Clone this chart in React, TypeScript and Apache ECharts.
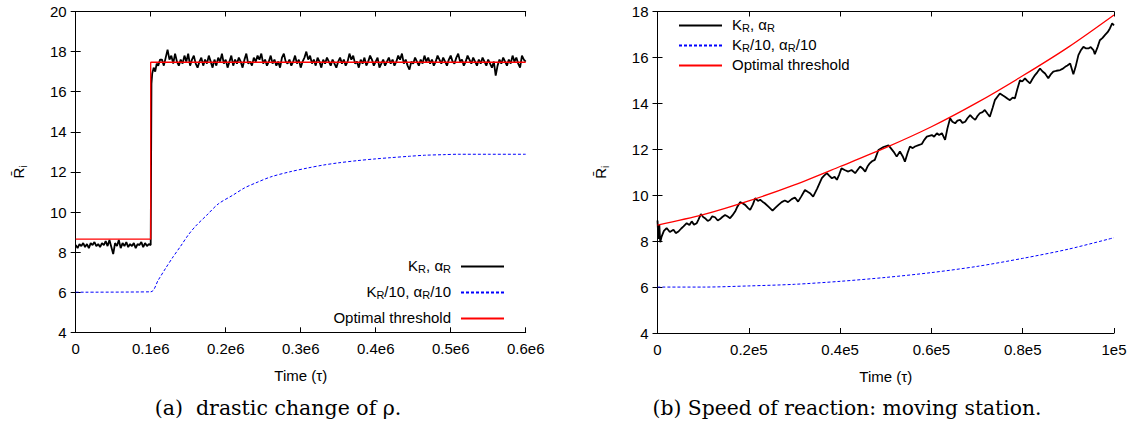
import React, { useEffect, useRef } from "react";
import * as echarts from "echarts";

// ---------- tick labels ----------
const leftXTickLabels = ["0", "0.1e6", "0.2e6", "0.3e6", "0.4e6", "0.5e6", "0.6e6"];
const rightXTickLabels = ["0", "0.2e5", "0.4e5", "0.6e5", "0.8e5", "1e5"];

// ---------- series names ----------
const nameBase = "KR, αR";
const nameTenth = "KR/10, αR/10";
const nameOpt = "Optimal threshold";

// ---------- left panel (time in units of 1e3 τ) ----------
const leftBlackPreStep = 2.5;
const leftBlackPre = [
  8.35, 8.2, 8.4, 8.3, 8.45, 8.25, 8.4, 8.2, 8.45, 8.35,
  8.5, 8.3, 8.4, 8.25, 8.45, 8.35, 8.55, 8.3, 8.6, 8.25,
  7.9, 8.45, 8.3, 8.6, 8.2, 8.45, 8.3, 8.5, 8.25, 8.4,
  8.3, 8.45, 8.2, 8.4, 8.35, 8.5, 8.25, 8.45, 8.3, 8.4,
  8.35,
];
const leftBlackJump: [number, number][] = [
  [101, 16.4], [102, 16.9], [104, 17.2], [106, 17.0], [108, 17.4], [110, 17.3], [112.5, 17.6],
];
const leftBlackPostStart = 115;
const leftBlackPostStep = 2.5;
const leftBlackPost = [
  17.6, 17.3, 17.7, 18.1, 17.6, 17.8, 17.4, 17.9, 17.5, 17.3,
  17.6, 17.4, 17.8, 17.5, 17.9, 17.3, 17.6, 17.8, 17.4, 17.2,
  17.5, 17.7, 17.3, 17.6, 17.4, 17.8, 17.5, 17.2, 17.6, 17.3,
  17.7, 17.5, 17.9, 17.4, 17.6, 17.2, 17.5, 17.8, 17.3, 17.6,
  17.4, 17.7, 17.5, 17.2, 17.6, 17.9, 17.4, 17.5, 17.3, 17.7,
  17.5, 17.8, 17.6, 17.9, 17.4, 17.6, 17.3, 17.5, 17.8, 17.4,
  17.6, 17.3, 17.5, 17.2, 17.7, 17.9, 17.5, 17.4, 17.6, 17.3,
  17.5, 17.8, 17.4, 17.6, 17.2, 17.5, 17.7, 18.0, 17.6, 17.8,
  17.4, 17.6, 17.3, 17.7, 17.5, 17.2, 17.6, 17.4, 17.7, 17.5,
  17.3, 17.6, 17.4, 17.2, 17.5, 17.7, 17.4, 17.6, 17.3, 17.5,
  17.9, 17.6, 17.8, 17.4, 17.5, 17.2, 17.6, 17.4, 17.7, 17.3,
  17.5, 17.8, 17.6, 17.3, 17.5, 17.7, 17.2, 17.4, 17.6, 17.3,
  17.5, 17.7, 17.4, 17.6, 17.3, 17.5, 17.8, 17.6, 17.9, 17.4,
  17.6, 17.3, 17.1, 17.5, 17.4, 17.7, 17.5, 17.3, 17.6, 17.4,
  17.8, 17.5, 17.7, 17.4, 17.6, 17.3, 17.5, 17.8, 17.6, 17.4,
  17.7, 17.5, 17.3, 17.6, 17.8, 17.5, 17.4, 17.7, 17.9, 17.5,
  17.6, 17.3, 17.5, 17.8, 17.6, 17.4, 17.7, 17.5, 17.3, 17.6,
  17.4, 17.7, 17.5, 17.3, 17.6, 17.4, 17.2, 17.5, 16.8, 17.3,
  17.6, 17.4, 17.7, 17.5, 17.3, 17.6, 17.4, 17.8, 17.5, 17.7,
  17.4, 17.2, 17.8, 17.6, 17.5,
];
const leftBlueT = [0, 100, 110, 120, 130, 140, 150, 160, 175, 190, 210, 225, 240, 260, 285, 310, 330, 350, 375, 400, 420, 445, 465, 490, 510, 550, 600];
const leftBlueV = [6.0, 6.02, 6.6, 7.2, 7.77, 8.3, 8.85, 9.3, 9.85, 10.4, 10.85, 11.2, 11.45, 11.75, 12.0, 12.2, 12.34, 12.45, 12.56, 12.65, 12.71, 12.78, 12.83, 12.86, 12.88, 12.88, 12.88];
const leftRedT = [0, 100, 100, 600];
const leftRedV = [8.65, 8.65, 17.47, 17.47];

// ---------- right panel (time in units of 1e3 τ) ----------
const rightBlack: [number, number][] = [
  [0, 8.9], [0.2, 8.1], [0.4, 8.7], [0.6, 7.95], [0.9, 8.2], [1.4, 8.45], [2.0, 8.57], [2.7, 8.4], [3.5, 8.5], [4.0, 8.35],
  [4.6, 8.42], [5.2, 8.55], [5.7, 8.64], [6.4, 8.78], [7.0, 8.7], [7.5, 8.86], [8.0, 8.72], [8.6, 8.78], [9.0, 8.95], [9.5, 9.18],
  [10.0, 9.05], [10.4, 9.0], [11.0, 8.88], [11.5, 8.93], [12.0, 9.08], [12.6, 9.04], [13.2, 8.9], [13.7, 8.96], [14.2, 9.05], [14.8, 9.14],
  [15.3, 9.08], [15.9, 9.0], [16.4, 9.12], [17.0, 9.29], [17.5, 9.5], [18.1, 9.7], [18.6, 9.65], [19.2, 9.58], [19.8, 9.45], [20.3, 9.36],
  [20.9, 9.6], [21.4, 9.87], [22.0, 9.75], [22.5, 9.8], [23.0, 9.72], [23.5, 9.65], [24.3, 9.5], [25.2, 9.33], [25.8, 9.45], [26.5, 9.58],
  [27.2, 9.7], [27.9, 9.77], [28.6, 9.7], [29.4, 9.83], [30.1, 9.9], [30.8, 9.72], [31.5, 9.95], [32.3, 10.23], [32.9, 10.15], [33.4, 10.09],
  [34.1, 9.94], [35.0, 10.3], [36.0, 10.74], [36.5, 10.85], [37.1, 10.96], [37.6, 10.85], [38.2, 10.74], [38.8, 10.8], [39.3, 10.67], [39.8, 10.9],
  [40.3, 11.17], [41.0, 11.1], [41.8, 11.03], [42.5, 11.1], [43.3, 10.96], [43.9, 11.12], [44.4, 11.25], [45.0, 11.15], [45.5, 11.03], [46.0, 11.25],
  [46.5, 11.39], [47.0, 11.48], [47.6, 11.54], [48.4, 11.97], [49.5, 12.1], [50.6, 12.17], [51.1, 12.05], [51.7, 11.9], [52.4, 11.68], [53.1, 11.9],
  [53.7, 11.7], [54.2, 11.46], [54.8, 11.85], [55.3, 12.12], [55.9, 12.05], [56.4, 12.12], [57.2, 12.18], [57.9, 12.23], [58.4, 12.4], [59.0, 12.55],
  [60.1, 12.62], [60.6, 12.55], [61.2, 12.7], [61.7, 12.62], [62.3, 12.7], [63.0, 12.41], [63.5, 12.9], [64.1, 13.35], [64.6, 13.2], [65.2, 13.13],
  [65.7, 13.25], [66.3, 13.28], [66.8, 13.15], [67.4, 13.2], [67.9, 13.35], [68.5, 13.49], [69.0, 13.38], [69.6, 13.28], [70.1, 13.45], [70.6, 13.57],
  [71.2, 13.62], [71.7, 13.71], [72.3, 13.55], [72.8, 13.42], [73.4, 13.8], [73.9, 14.14], [74.5, 14.3], [75.0, 14.43], [75.6, 14.35], [76.1, 14.29],
  [76.7, 14.2], [77.2, 14.14], [77.8, 14.25], [78.3, 14.22], [78.8, 14.6], [79.4, 15.01], [79.9, 14.95], [80.5, 15.09], [81.0, 14.98], [81.6, 14.87],
  [82.1, 15.05], [82.7, 15.23], [83.2, 15.35], [83.8, 15.52], [84.3, 15.4], [84.9, 15.3], [85.6, 15.09], [86.1, 15.25], [86.7, 15.38], [87.4, 15.42],
  [88.2, 15.45], [88.7, 15.5], [89.3, 15.59], [89.8, 15.65], [90.4, 15.74], [91.1, 15.27], [91.6, 15.6], [92.2, 16.1], [92.7, 16.3], [93.3, 16.46],
  [93.8, 16.4], [94.4, 16.39], [94.9, 16.45], [95.5, 16.32], [95.8, 16.14], [96.4, 16.45], [96.9, 16.75], [97.5, 16.85], [98.0, 16.97], [98.6, 17.1],
  [99.1, 17.26], [99.6, 17.48], [100, 17.4],
];
const rightCurveT = [0, 10, 20, 30, 40, 50, 60, 70, 80, 90, 100];
const rightRedV = [8.7, 9.15, 9.75, 10.45, 11.25, 12.07, 12.98, 14.03, 15.2, 16.45, 17.85];
const rightBlueV = [6.0, 6.0, 6.05, 6.12, 6.25, 6.42, 6.63, 6.9, 7.25, 7.65, 8.15];

// ---------- captions ----------
const captionA = "(a)  drastic change of ρ.";
const captionB = "(b) Speed of reaction: moving station.";
const xAxisName = "Time (τ)";

const SANS = "'Liberation Sans', Arial, Helvetica, sans-serif";
const SERIF = "'DejaVu Serif', 'Liberation Serif', serif";

const legendText: Record<string, string> = {
  [nameBase]: "{m|K}{s|R}{m|, α}{s|R}",
  [nameTenth]: "{m|K}{s|R}{m|/10, α}{s|R}{m|/10}",
  [nameOpt]: "{m|Optimal threshold}",
};

const rich = {
  m: { fontSize: 15, fontFamily: SANS, color: "#000", lineHeight: 16, padding: [0, 0, 3, 0] },
  s: { fontSize: 11, fontFamily: SANS, color: "#000", lineHeight: 12, verticalAlign: "bottom" },
  g: { width: 5 },
};

function zip(t: number[], v: number[]) {
  return t.map((x, i) => [x, v[i]]);
}

export default function App() {
  const ref = useRef<HTMLDivElement>(null);
  useEffect(() => {
    if (!ref.current) return;
    const chart = echarts.init(ref.current, undefined, { renderer: "svg" });

    const leftBlack: number[][] = [
      ...leftBlackPre.map((v, i) => [i * leftBlackPreStep, v]),
      ...leftBlackJump,
      ...leftBlackPost.map((v, i) => [leftBlackPostStart + i * leftBlackPostStep, v]),
    ];

    const axisLine = { show: true, lineStyle: { color: "#000", width: 1 } };
    const tick = { show: true, inside: true, length: 5, lineStyle: { color: "#000", width: 1 } };
    const label = { color: "#000", fontSize: 15, fontFamily: SANS };

    const mkX = (grid: number, max: number, interval: number, labels: string[], bottom: boolean) => ({
      type: "value",
      gridIndex: grid,
      min: 0,
      max,
      interval,
      position: bottom ? "bottom" : "top",
      axisLine,
      axisTick: tick,
      splitLine: { show: false },
      axisLabel: bottom
        ? { ...label, margin: 9, formatter: (v: number) => labels[Math.round(v / interval)] ?? "" }
        : { show: false },
      name: bottom ? xAxisName : "",
      nameLocation: "middle",
      nameGap: 36,
      nameTextStyle: { ...label },
    });
    const mkY = (grid: number, min: number, max: number, left: boolean) => ({
      type: "value",
      gridIndex: grid,
      min,
      max,
      interval: 2,
      position: left ? "left" : "right",
      axisLine,
      axisTick: tick,
      splitLine: { show: false },
      axisLabel: left ? { ...label, margin: 9 } : { show: false },
      name: left ? "{r|R\u0304}{i|i}" : "",
      nameLocation: "middle",
      nameRotate: 90,
      nameGap: 47,
      nameTextStyle: {
        rich: {
          r: { fontSize: 15, fontFamily: SANS, color: "#000", padding: [0, 0, 3, 0] },
          i: { fontSize: 10, fontFamily: SANS, color: "#000", verticalAlign: "bottom" },
        },
      },
    });

    const line = (name: string, xi: number, data: number[][], color: string, width: number, dashed: boolean, smooth: boolean) => ({
      type: "line",
      name,
      xAxisIndex: xi,
      yAxisIndex: xi,
      data,
      showSymbol: false,
      symbol: "none",
      smooth: smooth ? 0.3 : false,
      lineStyle: { color, width, type: dashed ? [3, 2] : "solid" },
      itemStyle: { color },
      emphasis: { disabled: true },
    });

    const legendCommon = {
      data: [nameBase, nameTenth, nameOpt],
      orient: "vertical",
      padding: 0,
      itemWidth: 43,
      itemHeight: 12,
      selectedMode: false,
      itemStyle: { opacity: 0, borderWidth: 0 },
      textStyle: { rich },
    };

    chart.setOption({
      animation: false,
      backgroundColor: "#fff",
      grid: [
        { left: 75.7, top: 11.5, width: 450, height: 320.8 },
        { left: 657.5, top: 11.5, width: 456.5, height: 321.5 },
      ],
      xAxis: [
        mkX(0, 600, 100, leftXTickLabels, true),
        mkX(0, 600, 100, leftXTickLabels, false),
        mkX(1, 100, 20, rightXTickLabels, true),
        mkX(1, 100, 20, rightXTickLabels, false),
      ],
      yAxis: [mkY(0, 4, 20, true), mkY(0, 4, 20, false), mkY(1, 4, 18, true), mkY(1, 4, 18, false)],
      legend: [
        {
          ...legendCommon,
          align: "right",
          right: 1132 - 505,
          top: 257.5,
          itemGap: 8,
          formatter: (n: string) => legendText[n] + "{g|}",
        },
        {
          ...legendCommon,
          align: "left",
          left: 678,
          top: 16.5,
          itemGap: 2,
          formatter: (n: string) => "{g|}" + legendText[n],
        },
      ],
      series: [
        line(nameBase, 0, leftBlack, "#000000", 1.8, false, false),
        line(nameTenth, 0, zip(leftBlueT, leftBlueV), "#0000ff", 1, true, true),
        line(nameOpt, 0, zip(leftRedT, leftRedV), "#ff0000", 1.3, false, false),
        line(nameBase, 2, rightBlack, "#000000", 1.8, false, false),
        line(nameTenth, 2, zip(rightCurveT, rightBlueV), "#0000ff", 1, true, true),
        line(nameOpt, 2, zip(rightCurveT, rightRedV), "#ff0000", 1.3, false, true),
      ],
      graphic: [
        {
          type: "text",
          x: 278,
          y: 408,
          style: { text: captionA, font: `20.5px ${SERIF}`, fill: "#000", align: "center", verticalAlign: "middle" },
        },
        {
          type: "text",
          x: 847,
          y: 408,
          style: { text: captionB, font: `20.3px ${SERIF}`, fill: "#000", align: "center", verticalAlign: "middle" },
        },
      ],
    });
    return () => chart.dispose();
  }, []);
  return (
    <div
      ref={ref}
      style={{ position: "fixed", left: 0, top: 0, width: 1132, height: 426, background: "#fff" }}
    />
  );
}
